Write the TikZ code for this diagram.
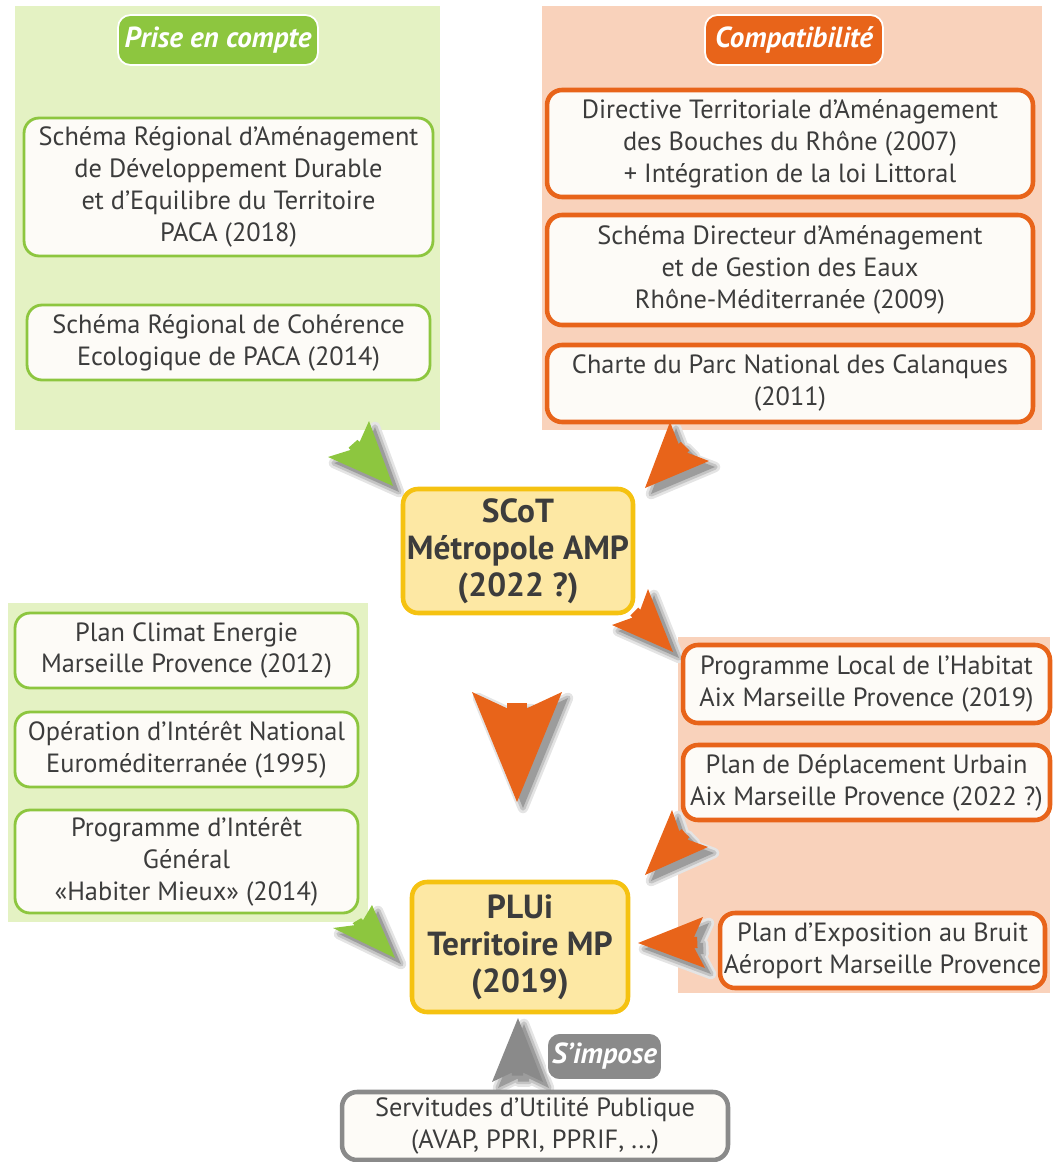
\documentclass[tikz,border=0pt]{standalone}
\usepackage{fontspec}
\setmainfont{PT Sans}

\definecolor{pgreen}{HTML}{E4F2C3}
\definecolor{lgreen}{HTML}{8DC63F}
\definecolor{opeach}{HTML}{F9D2BB}
\definecolor{orng}{HTML}{E8641A}
\definecolor{yfill}{HTML}{FDE8A4}
\definecolor{gold}{HTML}{F5C211}
\definecolor{boxfill}{HTML}{FDFBF7}
\definecolor{txt}{HTML}{3C3C3C}
\definecolor{gry}{HTML}{8A8A8A}
\definecolor{shadeA}{HTML}{E4E4E4}
\definecolor{shadeB}{HTML}{C4C4C4}
\definecolor{shadeC}{HTML}{9C9C9C}

\newcommand\boxfont{\fontsize{15}{18.2}\selectfont}
\newcommand\bigfont{\bfseries\fontsize{19}{21}\selectfont}
\newcommand\badgefont{\bfseries\itshape\fontsize{16.5}{18}\selectfont}

% arrowhead with a small tab at its back: colour, tip x/y, barb a x/y, barb b x/y
\newcommand\tabarrow[7]{%
  \pgfmathsetmacro\arMx{(#4+#6)/2}\pgfmathsetmacro\arMy{(#5+#7)/2}%
  \pgfmathsetmacro\arNx{\arMx+0.19*(#2-\arMx)}\pgfmathsetmacro\arNy{\arMy+0.19*(#3-\arMy)}%
  \pgfmathsetmacro\arKx{\arMx+0.13*(#2-\arMx)}\pgfmathsetmacro\arKy{\arMy+0.13*(#3-\arMy)}%
  \def\arrowshape{(#2,#3) -- (#4,#5)
    -- ({\arNx+0.22*(#4-\arNx)},{\arNy+0.22*(#5-\arNy)})
    -- ({\arKx+0.22*(#4-\arKx)},{\arKy+0.22*(#5-\arKy)})
    -- ({\arKx+0.22*(#6-\arKx)},{\arKy+0.22*(#7-\arKy)})
    -- ({\arNx+0.22*(#6-\arNx)},{\arNy+0.22*(#7-\arNy)})
    -- (#6,#7) -- cycle}%
  % soft shadow
  \begin{scope}[shift={(6,6)}, line join=round]
    \filldraw[draw=shadeA, fill=shadeA, line width=6pt] \arrowshape;
    \filldraw[draw=shadeB, fill=shadeB, line width=3pt] \arrowshape;
    \fill[shadeC] \arrowshape;
  \end{scope}
  \fill[#1] \arrowshape;
}

\tikzset{
  gbox/.style={draw=lgreen, line width=1.6pt, fill=boxfill, rounded corners=0.3cm,
               align=center, font=\boxfont, text=txt, inner sep=0pt},
  obox/.style={gbox, draw=orng, line width=2.6pt},
  sbox/.style={gbox, draw=gry, line width=2.6pt},
  ybox/.style={gbox, draw=gold, fill=yfill, line width=2.6pt, font=\bigfont},
  badge/.style={fill=#1, draw=white, line width=1pt, rounded corners=0.25cm,
                text=white, font=\badgefont, inner sep=0pt}
}

\begin{document}
\begin{tikzpicture}[x=0.02cm, y=-0.02cm]
  \useasboundingbox (0,0) rectangle (1053,1162);

  % Background panels
  \fill[pgreen] (15,6) rectangle (440,430);
  \fill[opeach] (542,6) rectangle (1042,430);
  \fill[pgreen] (8,603) rectangle (368,922);
  \fill[opeach] (678,637) rectangle (1050,993);

  % Arrowheads
  \foreach \c/\tx/\ty/\ax/\ay/\bx/\by in {
      lgreen/393/486/369/421/328/457,   % SRADDET, SRCE -> SCoT
      orng/645/488/670/422/709/461,     % DTA, SDAGE, Charte -> SCoT
      orng/673/652/648/589/612/625,     % SCoT -> PLH
      orng/517/802/472/692/562/692,     % SCoT -> PLUi
      orng/645/875/672/810/708/847,     % PLH, PDU -> PLUi
      orng/638/943/703/917/705/968,     % PEB -> PLUi
      lgreen/395/958/372/905/333/928,   % left documents -> PLUi
      gry/518/1018/492/1082/543/1082}   % SUP -> PLUi
  {   \tabarrow{\c}{\tx}{\ty}{\ax}{\ay}{\bx}{\by}}

  % Titles
  \node[badge=lgreen, minimum width=4.0cm, minimum height=1.0cm] (prise) at (218,40) {Prise en compte};
  \node[badge=orng, minimum width=3.56cm, minimum height=1.0cm] (compat) at (794,40) {Compatibilité};

  % Prise en compte (top)
  \node[gbox, minimum width=8.18cm, minimum height=2.76cm] (sraddet) at (228.5,187)
    {Schéma Régional d’Aménagement\\de Développement Durable\\et d’Equilibre du Territoire\\PACA (2018)};
  \node[gbox, minimum width=8.06cm, minimum height=1.5cm] (srce) at (228.5,342.5)
    {Schéma Régional de Cohérence\\Ecologique de PACA (2014)};

  % Compatibilite (top)
  \node[obox, minimum width=9.72cm, minimum height=2.14cm] (dta) at (790,143.5)
    {Directive Territoriale d’Aménagement\\des Bouches du Rhône (2007)\\+ Intégration de la loi Littoral};
  \node[obox, minimum width=9.72cm, minimum height=2.2cm] (sdage) at (790,270)
    {Schéma Directeur d’Aménagement\\et de Gestion des Eaux\\Rhône-Méditerranée (2009)};
  \node[obox, minimum width=9.72cm, minimum height=1.54cm] (charte) at (790,383.5)
    {Charte du Parc National des Calanques\\(2011)};

  % SCoT
  \node[ybox, minimum width=4.6cm, minimum height=2.48cm] (scot) at (518,551)
    {SCoT\\Métropole AMP\\(2022 ?)};

  % Prise en compte (bottom)
  \node[gbox, minimum width=6.86cm, minimum height=1.5cm] (pce) at (186.5,650.5)
    {Plan Climat Energie\\Marseille Provence (2012)};
  \node[gbox, minimum width=6.86cm, minimum height=1.5cm] (oin) at (186.5,749.5)
    {Opération d’Intérêt National\\Euroméditerranée (1995)};
  \node[gbox, minimum width=6.86cm, minimum height=2.06cm] (pig) at (186.5,861.5)
    {Programme d’Intérêt\\Général\\«Habiter Mieux» (2014)};

  % Compatibilite (bottom)
  \node[obox, minimum width=7.34cm, minimum height=1.56cm] (plh) at (866.5,684)
    {Programme Local de l’Habitat\\Aix Marseille Provence (2019)};
  \node[obox, minimum width=7.34cm, minimum height=1.5cm] (pdu) at (866.5,782.5)
    {Plan de Déplacement Urbain\\Aix Marseille Provence (2022 ?)};
  \node[obox, minimum width=6.5cm, minimum height=1.5cm] (peb) at (882.5,950.5)
    {Plan d’Exposition au Bruit\\Aéroport Marseille Provence};

  % PLUi
  \node[ybox, minimum width=4.32cm, minimum height=2.6cm] (plui) at (520,947)
    {PLUi\\Territoire MP\\(2019)};

  % Servitudes
  \node[badge=gry, minimum width=2.3cm, minimum height=0.94cm] (impose) at (604.5,1056.5) {S’impose};
  \node[sbox, minimum width=7.72cm, minimum height=1.36cm] (sup) at (535,1126)
    {Servitudes d’Utilité Publique\\(AVAP, PPRI, PPRIF, ...)};
\end{tikzpicture}
\end{document}
